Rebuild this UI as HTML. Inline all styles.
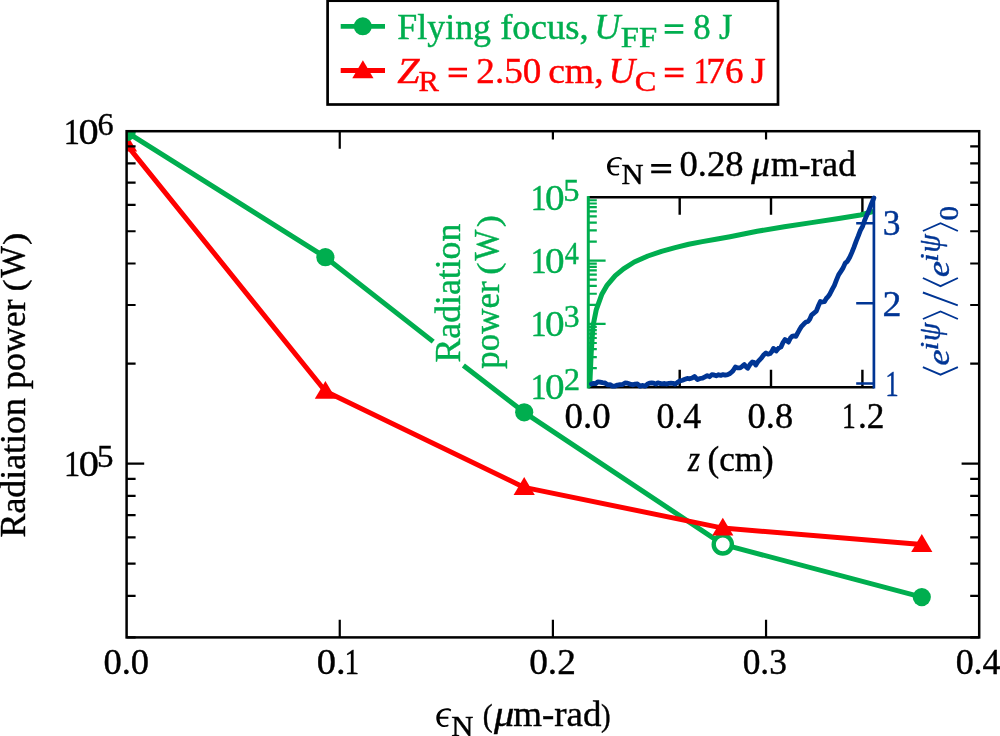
<!DOCTYPE html>
<html><head><meta charset="utf-8"><title>chart</title>
<style>html,body{margin:0;padding:0;background:#fff}body{width:1000px;height:736px;overflow:hidden;font-family:"Liberation Serif",serif}svg text{font-kerning:none;font-variant-ligatures:none;stroke-width:0.4px}</style></head>
<body>
<svg width="1000" height="736" viewBox="0 0 1000 736" style="display:block;will-change:transform" font-family="Liberation Serif, serif">
<rect x="0" y="0" width="1000" height="736" fill="#fff"/>
<defs><clipPath id="mc"><rect x="126.6" y="131.2" width="852.6" height="506.2"/></clipPath>
<clipPath id="ic"><rect x="588" y="197.3" width="285.4" height="190"/></clipPath></defs>
<g clip-path="url(#mc)">
<path d="M126.5,132.0 L325.4,257.2 L433.2,341.6 M463.4,365.4 L524.2,412.3 L722.8,544.4 L921.8,597.1" fill="none" stroke="#00ae4f" stroke-width="5" stroke-linejoin="round"/>
<circle cx="325.4" cy="257.2" r="9.1" fill="#00ae4f"/>
<circle cx="524.2" cy="412.3" r="9.1" fill="#00ae4f"/>
<circle cx="921.8" cy="597.1" r="9.1" fill="#00ae4f"/>
<circle cx="722.8" cy="544.4" r="9.1" fill="#fff" stroke="#00ae4f" stroke-width="4.4"/>
<path d="M126.5,144.6 L325.4,391.2 L524.2,487.4 L722.8,528.1 L921.8,544.4" fill="none" stroke="#ff0000" stroke-width="5" stroke-linejoin="round"/>
<path d="M115.9,151.6 L137.1,151.6 L126.5,133.79999999999998 Z" fill="#ff0000"/>
<path d="M314.79999999999995,398.7 L336.0,398.7 L325.4,380.9 Z" fill="#ff0000"/>
<path d="M513.6,494.9 L534.8000000000001,494.9 L524.2,477.09999999999997 Z" fill="#ff0000"/>
<path d="M712.1999999999999,535.6 L733.4,535.6 L722.8,517.8000000000001 Z" fill="#ff0000"/>
<path d="M911.1999999999999,551.9 L932.4,551.9 L921.8,534.1 Z" fill="#ff0000"/>
<circle cx="126.5" cy="132.0" r="9.3" fill="#00ae4f"/>
</g>
<rect x="126.6" y="131.2" width="852.6" height="506.2" fill="none" stroke="#000" stroke-width="2.5"/>
<path d="M339.75,637.4 v-17.6 M339.75,131.2 v17.6 M552.90,637.4 v-17.6 M552.90,131.2 v8.2 M766.05,637.4 v-17.6 M766.05,131.2 v8.2 M126.6,463.60 h17.6 M979.2,463.60 h-17.6 M126.6,363.54 h9.0 M979.2,363.54 h-9.0 M126.6,305.00 h9.0 M979.2,305.00 h-9.0 M126.6,263.48 h9.0 M979.2,263.48 h-9.0 M126.6,231.26 h9.0 M979.2,231.26 h-9.0 M126.6,204.94 h9.0 M979.2,204.94 h-9.0 M126.6,182.69 h9.0 M979.2,182.69 h-9.0 M126.6,163.41 h9.0 M979.2,163.41 h-9.0 M126.6,146.41 h9.0 M979.2,146.41 h-9.0 M126.6,637.40 h9.0 M979.2,637.40 h-9.0 M126.6,595.88 h9.0 M979.2,595.88 h-9.0 M126.6,563.66 h9.0 M979.2,563.66 h-9.0 M126.6,537.34 h9.0 M979.2,537.34 h-9.0 M126.6,515.09 h9.0 M979.2,515.09 h-9.0 M126.6,495.81 h9.0 M979.2,495.81 h-9.0 M126.6,478.81 h9.0 M979.2,478.81 h-9.0" fill="none" stroke="#000" stroke-width="2.2"/>
<text transform="translate(316.83,673.90) scale(1.0648,1)" font-size="36.2" fill="#000" stroke="#000">0.</text>
<text transform="translate(344.43,673.90) scale(0.8082,1)" font-size="36.2" fill="#000" stroke="#000">1</text>
<text transform="translate(103.41,673.90) scale(1.0072,1)" font-size="36.2" fill="#000" stroke="#000">0.0</text>
<text transform="translate(529.18,673.90) scale(1.0317,1)" font-size="36.2" fill="#000" stroke="#000">0.2</text>
<text transform="translate(742.65,673.90) scale(0.9775,1)" font-size="36.2" fill="#000" stroke="#000">0.3</text>
<text transform="translate(955.63,673.90) scale(0.9929,1)" font-size="36.2" fill="#000" stroke="#000">0.4</text>
<text transform="translate(63.85,143.60) scale(0.8945,1)" font-size="36.2" fill="#000" stroke="#000">1</text>
<text transform="translate(78.46,143.60) scale(1.1145,1)" font-size="36.2" fill="#000" stroke="#000">0</text>
<text transform="translate(97.61,135.00) scale(1.0254,1)" font-size="31.5" fill="#000" stroke="#000">6</text>
<text transform="translate(64.05,475.90) scale(0.8945,1)" font-size="36.2" fill="#000" stroke="#000">1</text>
<text transform="translate(78.66,475.90) scale(1.1145,1)" font-size="36.2" fill="#000" stroke="#000">0</text>
<text transform="translate(97.08,467.30) scale(1.0481,1)" font-size="31.5" fill="#000" stroke="#000">5</text>
<g transform="translate(436.3,727.0) scale(0.05435) translate(-128,-472)" fill="#000"><path d="M402,150 C382,136 352,128 325,128 C215,128 128,200 128,305 C128,400 190,472 285,472 C315,472 340,465 354,455 L346,428 C330,437 310,441 292,441 C230,441 190,395 190,318 L350,318 L350,284 L191,284 C198,212 247,164 320,164 C350,164 375,172 390,188 Z"/></g>
<text transform="translate(451.31,736.20) scale(1.0416,1)" font-size="29.5" fill="#000" stroke="#000">N</text>
<text transform="translate(482.70,726.30) scale(0.9247,1)" font-size="32" fill="#000" stroke="#000">(</text>
<text transform="translate(494.04,726.30) scale(1.1557,1)" font-size="35.0" fill="#000" stroke="#000" font-style="italic">μ</text>
<text transform="translate(513.22,726.30) scale(1.0557,1)" font-size="35.0" fill="#000" stroke="#000">m-rad</text>
<text transform="translate(601.07,726.30) scale(0.9004,1)" font-size="32" fill="#000" stroke="#000">)</text>
<text transform="translate(24.70,600.00) rotate(-90) translate(62.47,0.00) scale(1.0249,1)" font-size="35.0" fill="#000" stroke="#000">Radiation</text>
<text transform="translate(24.70,600.00) rotate(-90) translate(211.12,0.00) scale(1.0232,1)" font-size="35.0" fill="#000" stroke="#000">power</text>
<text transform="translate(24.70,600.00) rotate(-90) translate(308.57,0.00) scale(1.1559,1)" font-size="32" fill="#000" stroke="#000">(</text>
<text transform="translate(24.70,600.00) rotate(-90) translate(322.57,0.00) scale(0.9535,1)" font-size="35.0" fill="#000" stroke="#000">W</text>
<text transform="translate(24.70,600.00) rotate(-90) translate(355.11,0.00) scale(1.1559,1)" font-size="32" fill="#000" stroke="#000">)</text>
<rect x="327.6" y="0.7" width="450.4" height="103.8" fill="#fff" stroke="#000" stroke-width="2.7"/>
<path d="M340.7,26.4 H385" stroke="#00ae4f" stroke-width="4.9"/><circle cx="362.8" cy="26.35" r="9.0" fill="#00ae4f"/>
<path d="M340.7,70.5 H385" stroke="#ff0000" stroke-width="4.9"/><path d="M352.3,78.3 L373.5,78.3 L362.9,60.3 Z" fill="#ff0000"/>
<text transform="translate(397.37,38.60) scale(1.0252,1)" font-size="35.0" fill="#00ae4f" stroke="#00ae4f">Flying</text>
<text transform="translate(500.17,38.60) scale(1.0464,1)" font-size="35.0" fill="#00ae4f" stroke="#00ae4f">focus,</text>
<text transform="translate(594.18,38.60) scale(1.0330,1)" font-size="35.0" fill="#00ae4f" stroke="#00ae4f" font-style="italic">U</text>
<text transform="translate(620.76,46.50) scale(1.1101,1)" font-size="29.5" fill="#00ae4f" stroke="#00ae4f">FF</text>
<path d="M664.7,25.65 H683.3 M664.7,32.35 H683.3" stroke="#00ae4f" stroke-width="2.9" fill="none"/>
<text transform="translate(693.17,38.60) scale(0.9614,1)" font-size="36.2" fill="#00ae4f" stroke="#00ae4f">8</text>
<text transform="translate(719.02,38.60) scale(0.9876,1)" font-size="35.0" fill="#00ae4f" stroke="#00ae4f">J</text>
<text transform="translate(397.31,82.70) scale(1.1434,1)" font-size="35.0" fill="#ff0000" stroke="#ff0000" font-style="italic">Z</text>
<text transform="translate(418.52,90.90) scale(1.0209,1)" font-size="30" fill="#ff0000" stroke="#ff0000">R</text>
<path d="M448.6,69.15 H467 M448.6,75.85 H467" stroke="#ff0000" stroke-width="2.9" fill="none"/>
<text transform="translate(476.37,82.70) scale(1.0268,1)" font-size="36.2" fill="#ff0000" stroke="#ff0000">2.50</text>
<text transform="translate(548.17,82.70) scale(1.0756,1)" font-size="35.0" fill="#ff0000" stroke="#ff0000">cm,</text>
<text transform="translate(608.62,82.70) scale(1.0518,1)" font-size="35.0" fill="#ff0000" stroke="#ff0000" font-style="italic">U</text>
<text transform="translate(634.87,91.00) scale(1.0987,1)" font-size="29.5" fill="#ff0000" stroke="#ff0000">C</text>
<path d="M664.8,69.15 H683.5 M664.8,75.85 H683.5" stroke="#ff0000" stroke-width="2.9" fill="none"/>
<text transform="translate(693.70,82.70) scale(0.8474,1)" font-size="36.2" fill="#ff0000" stroke="#ff0000">1</text>
<text transform="translate(706.35,82.70) scale(1.0264,1)" font-size="36.2" fill="#ff0000" stroke="#ff0000">76</text>
<text transform="translate(750.79,82.70) scale(1.1028,1)" font-size="35.0" fill="#ff0000" stroke="#ff0000">J</text>
<rect x="588.3" y="197.35" width="285.6" height="189.9" fill="#fff"/>
<path d="M588.3,197.35 H873.9 M588.3,387.25 H873.9" stroke="#000" stroke-width="2.5" fill="none"/>
<path d="M679.7,197.35 v17.5 M679.7,387.25 v-17.5 M771.0,197.35 v17.5 M771.0,387.25 v-17.5 M862.4,197.35 v17.5 M862.4,387.25 v-17.5" stroke="#000" stroke-width="2.4" fill="none"/>
<g clip-path="url(#ic)">
<path d="M588.6,386.2 L590.0,380.2 L591.2,353.0 L593.0,325.9 L596.3,309.6 L601.7,294.6 L607.2,285.1 L615.3,275.6 L623.5,268.8 L634.3,262.0 L647.9,256.0 L661.5,251.4 L675.1,247.6 L688.7,244.3 L702.3,241.6 L715.9,239.2 L730.0,236.7 L757.2,231.3 L784.3,226.7 L811.5,222.6 L838.7,218.5 L860.4,215.0 L872.7,211.7 L874.0,211.3" fill="none" stroke="#00ae4f" stroke-width="5.0" stroke-linejoin="round" stroke-linecap="round"/>
</g>
<path d="M588.3,196.1 V388.5" stroke="#00ae4f" stroke-width="3.0" fill="none"/>
<path d="M588.3,368.19 h8.5 M588.3,357.05 h8.5 M588.3,349.14 h8.5 M588.3,343.01 h8.5 M588.3,337.99 h8.5 M588.3,333.76 h8.5 M588.3,330.08 h8.5 M588.3,326.85 h8.5 M588.3,323.95 h17.3 M588.3,304.89 h8.5 M588.3,293.75 h8.5 M588.3,285.84 h8.5 M588.3,279.71 h8.5 M588.3,274.69 h8.5 M588.3,270.46 h8.5 M588.3,266.78 h8.5 M588.3,263.55 h8.5 M588.3,260.65 h17.3 M588.3,241.59 h8.5 M588.3,230.45 h8.5 M588.3,222.54 h8.5 M588.3,216.41 h8.5 M588.3,211.39 h8.5 M588.3,207.16 h8.5 M588.3,203.48 h8.5 M588.3,200.25 h8.5" stroke="#00ae4f" stroke-width="2.2" fill="none"/>
<path d="M873.9,223.2 h-17.7 M873.9,303.3 h-17.7 M873.9,383.5 h-17.7" stroke="#003594" stroke-width="2.6" fill="none"/>
<path d="M591.5,384.0 L593.5,383.3 L595.7,383.6 L597.8,381.8 L600.0,382.1 L602.5,382.7 L605.0,383.0 L607.5,384.8 L610.0,384.6 L612.5,386.1 L615.0,386.1 L617.5,385.1 L620.0,384.7 L622.5,384.5 L625.0,383.0 L627.5,383.2 L630.0,384.1 L632.5,384.8 L635.0,384.2 L637.5,384.0 L640.1,386.2 L642.8,385.4 L645.0,386.2 L647.3,384.2 L649.5,383.1 L651.6,382.9 L653.7,383.2 L655.8,384.1 L657.9,382.8 L660.0,383.5 L662.2,383.8 L664.5,383.5 L666.8,384.1 L669.0,383.3 L671.0,383.2 L673.0,383.3 L675.0,384.2 L677.5,382.4 L680.0,380.9 L682.5,380.2 L684.9,379.3 L687.3,378.4 L689.7,378.8 L692.1,378.0 L694.5,376.5 L697.5,379.6 L700.0,378.5 L702.5,378.1 L705.0,376.8 L707.2,375.6 L709.5,376.7 L711.8,374.7 L714.0,375.0 L716.2,375.8 L718.5,374.7 L720.8,375.4 L723.0,374.6 L725.3,375.1 L727.7,374.6 L730.0,373.5 L732.7,371.2 L735.4,367.0 L737.8,367.9 L740.2,367.9 L742.2,366.4 L744.3,364.6 L746.0,366.7 L747.7,368.3 L750.0,364.5 L752.4,362.0 L754.1,362.3 L755.8,365.1 L757.5,362.3 L759.2,360.3 L761.5,357.9 L763.7,354.8 L766.0,353.0 L768.0,354.2 L770.1,353.5 L771.8,351.7 L773.5,348.4 L776.2,351.0 L778.6,348.2 L781.0,346.9 L783.0,342.5 L785.0,339.5 L786.7,340.5 L788.4,342.1 L790.5,338.0 L792.5,336.1 L794.2,335.9 L795.9,336.3 L797.6,333.1 L799.3,330.1 L801.6,326.3 L804.0,323.8 L806.0,322.0 L808.1,321.4 L809.8,319.1 L811.5,315.1 L813.9,313.1 L816.3,311.2 L818.3,306.1 L820.4,301.5 L822.4,302.0 L824.4,301.7 L826.3,298.5 L828.1,296.6 L830.0,293.8 L832.2,289.4 L834.4,285.3 L836.5,279.9 L838.7,274.6 L840.9,271.3 L843.1,267.9 L845.2,263.1 L847.4,261.3 L849.6,257.6 L851.8,252.6 L853.9,247.3 L856.1,241.3 L858.2,236.2 L860.4,230.4 L862.5,226.6 L864.5,220.7 L866.5,215.9 L868.6,211.3 L871.2,204.4 L873.9,197.9" fill="none" stroke="#003594" stroke-width="4.8" stroke-linejoin="round" stroke-linecap="round"/>
<path d="M873.9,196.1 V388.5" stroke="#003594" stroke-width="2.7" fill="none"/>
<text transform="translate(564.60,427.80) scale(1.0166,1)" font-size="36.2" fill="#000" stroke="#000">0.0</text>
<text transform="translate(656.43,427.80) scale(0.9906,1)" font-size="36.2" fill="#000" stroke="#000">0.4</text>
<text transform="translate(747.61,427.80) scale(1.0061,1)" font-size="36.2" fill="#000" stroke="#000">0.8</text>
<text transform="translate(841.88,427.80) scale(0.7611,1)" font-size="36.2" fill="#000" stroke="#000">1</text>
<text transform="translate(857.97,427.80) scale(0.9751,1)" font-size="36.2" fill="#000" stroke="#000">.2</text>
<text transform="translate(687.95,470.80) scale(0.8781,1)" font-size="35.0" fill="#000" stroke="#000" font-style="italic">z</text>
<text transform="translate(707.46,470.80) scale(1.0033,1)" font-size="35.0" fill="#000" stroke="#000">(cm)</text>
<g transform="translate(607.0,175.6) scale(0.05435) translate(-128,-472)" fill="#000"><path d="M402,150 C382,136 352,128 325,128 C215,128 128,200 128,305 C128,400 190,472 285,472 C315,472 340,465 354,455 L346,428 C330,437 310,441 292,441 C230,441 190,395 190,318 L350,318 L350,284 L191,284 C198,212 247,164 320,164 C350,164 375,172 390,188 Z"/></g>
<text transform="translate(621.62,184.40) scale(1.0544,1)" font-size="29" fill="#000" stroke="#000">N</text>
<path d="M651.2,165.45 H671.1 M651.2,171.95 H671.1" stroke="#000" stroke-width="2.8" fill="none"/>
<text transform="translate(679.51,175.60) scale(1.0100,1)" font-size="36.2" fill="#000" stroke="#000">0.28</text>
<text transform="translate(751.34,175.60) scale(1.0705,1)" font-size="35.0" fill="#000" stroke="#000" font-style="italic">μ</text>
<text transform="translate(771.05,175.60) scale(1.0157,1)" font-size="35.0" fill="#000" stroke="#000">m-rad</text>
<text transform="translate(530.73,209.50) scale(0.8710,1)" font-size="36.2" fill="#00ae4f" stroke="#00ae4f">1</text>
<text transform="translate(544.91,209.50) scale(1.0820,1)" font-size="36.2" fill="#00ae4f" stroke="#00ae4f">0</text>
<text transform="translate(563.31,200.90) scale(1.0324,1)" font-size="31.5" fill="#00ae4f" stroke="#00ae4f">5</text>
<text transform="translate(530.73,272.50) scale(0.8710,1)" font-size="36.2" fill="#00ae4f" stroke="#00ae4f">1</text>
<text transform="translate(544.91,272.50) scale(1.0820,1)" font-size="36.2" fill="#00ae4f" stroke="#00ae4f">0</text>
<text transform="translate(564.65,263.90) scale(0.8947,1)" font-size="31.5" fill="#00ae4f" stroke="#00ae4f">4</text>
<text transform="translate(530.73,335.50) scale(0.8710,1)" font-size="36.2" fill="#00ae4f" stroke="#00ae4f">1</text>
<text transform="translate(544.91,335.50) scale(1.0820,1)" font-size="36.2" fill="#00ae4f" stroke="#00ae4f">0</text>
<text transform="translate(563.68,326.90) scale(1.0067,1)" font-size="31.5" fill="#00ae4f" stroke="#00ae4f">3</text>
<text transform="translate(530.73,398.50) scale(0.8710,1)" font-size="36.2" fill="#00ae4f" stroke="#00ae4f">1</text>
<text transform="translate(544.91,398.50) scale(1.0820,1)" font-size="36.2" fill="#00ae4f" stroke="#00ae4f">0</text>
<text transform="translate(563.76,389.90) scale(1.0374,1)" font-size="31.5" fill="#00ae4f" stroke="#00ae4f">2</text>
<text transform="translate(882.75,235.40) scale(0.9797,1)" font-size="36.2" fill="#003594" stroke="#003594">3</text>
<text transform="translate(882.43,315.50) scale(1.0474,1)" font-size="36.2" fill="#003594" stroke="#003594">2</text>
<text transform="translate(885.33,395.70) scale(0.7454,1)" font-size="36.2" fill="#003594" stroke="#003594">1</text>
<text transform="translate(459.90,400.00) rotate(-90) translate(37.57,0.00) scale(1.0197,1)" font-size="35.0" fill="#00ae4f" stroke="#00ae4f">Radiation</text>
<text transform="translate(498.80,400.00) rotate(-90) translate(31.34,0.00) scale(0.9978,1)" font-size="35.0" fill="#00ae4f" stroke="#00ae4f">power</text>
<text transform="translate(498.80,400.00) rotate(-90) translate(125.19,0.00) scale(1.1437,1)" font-size="32" fill="#00ae4f" stroke="#00ae4f">(</text>
<text transform="translate(498.80,400.00) rotate(-90) translate(139.57,0.00) scale(0.9322,1)" font-size="35.0" fill="#00ae4f" stroke="#00ae4f">W</text>
<text transform="translate(498.80,400.00) rotate(-90) translate(172.72,0.00) scale(1.1437,1)" font-size="32" fill="#00ae4f" stroke="#00ae4f">)</text>
<text transform="translate(949.30,375.00) rotate(-90) translate(9.37,0.00) scale(1.1440,1)" font-size="32" fill="#003594" stroke="#003594" font-style="italic">e</text>
<text transform="translate(949.30,375.00) rotate(-90) translate(24.56,-11.00) scale(1.2507,1)" font-size="25" fill="#003594" stroke="#003594" font-style="italic">i</text>
<text transform="translate(949.30,375.00) rotate(-90) translate(33.95,-9.50) scale(0.9470,1)" font-size="31" fill="#003594" stroke="#003594" font-style="italic">ψ</text>
<text transform="translate(949.30,375.00) rotate(-90) translate(97.87,0.00) scale(1.1440,1)" font-size="32" fill="#003594" stroke="#003594" font-style="italic">e</text>
<text transform="translate(949.30,375.00) rotate(-90) translate(113.06,-11.00) scale(1.2507,1)" font-size="25" fill="#003594" stroke="#003594" font-style="italic">i</text>
<text transform="translate(949.30,375.00) rotate(-90) translate(122.45,-9.50) scale(0.9470,1)" font-size="31" fill="#003594" stroke="#003594" font-style="italic">ψ</text>
<text transform="translate(949.30,375.00) rotate(-90) translate(154.49,8.40) scale(1.0365,1)" font-size="28" fill="#003594" stroke="#003594">0</text>
<g transform="translate(949.3,375) rotate(-90)" fill="none" stroke="#003594" stroke-width="1.9">
<path d="M7.8,-26.4 L0.3,-8.8 L7.8,8.6 M56,-26.4 L63.5,-8.8 L56,8.6 M69.6,8.5 L82.5,-26.4 M97,-26.4 L88.8,-8.8 L97,8.6 M144,-26.4 L151.8,-8.8 L144,8.6"/>
</g>
</svg>
</body></html>
